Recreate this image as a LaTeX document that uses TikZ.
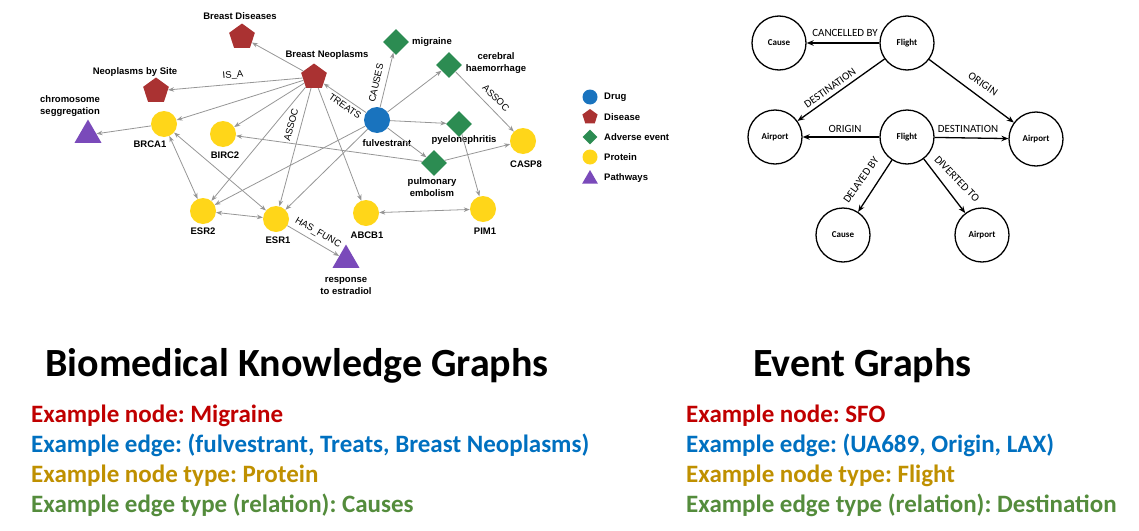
\documentclass[tikz,border=0pt]{standalone}
\usepackage{fontspec}
\setmainfont{Carlito}
\newfontfamily\hv{Liberation Sans}
\usetikzlibrary{shapes.geometric,arrows.meta}

\definecolor{disease}{RGB}{170,50,50}
\definecolor{drug}{RGB}{25,115,190}
\definecolor{adverse}{RGB}{44,140,82}
\definecolor{protein}{RGB}{255,214,25}
\definecolor{pathway}{RGB}{122,74,186}
\definecolor{edgegrey}{RGB}{150,150,150}
\definecolor{exred}{RGB}{192,0,0}
\definecolor{exblue}{RGB}{0,112,192}
\definecolor{exgold}{RGB}{191,144,0}
\definecolor{exgreen}{RGB}{84,140,60}

\frenchspacing
\begin{document}
\begin{tikzpicture}[x=1pt,y=-1pt,
  protnode/.style={circle,fill=protein,minimum size=26pt,inner sep=0},
  drugnode/.style={circle,fill=drug,minimum size=26pt,inner sep=0},
  disnode/.style={regular polygon,regular polygon sides=5,fill=disease,minimum size=27pt,inner sep=0},
  advnode/.style={diamond,aspect=1,fill=adverse,minimum size=26pt,inner sep=0},
  pathnode/.style={regular polygon,regular polygon sides=3,fill=pathway,minimum size=31pt,inner sep=0},
  blbl/.style={font=\hv\bfseries\fontsize{9.5}{11.5}\selectfont,inner sep=0,align=center},
  llbl/.style={font=\hv\bfseries\fontsize{9.5}{11.5}\selectfont,inner sep=0,anchor=west},
  elbl/.style={font=\hv\fontsize{9.5}{11}\selectfont,inner sep=0},
  kg/.style={draw=edgegrey,line width=0.8pt,-{Stealth[length=6pt,width=4.5pt]}},
  kgb/.style={draw=edgegrey,line width=0.8pt,{Stealth[length=6pt,width=4.5pt]}-{Stealth[length=6pt,width=4.5pt]}},
  evnode/.style={circle,draw,line width=1.3pt,minimum size=54pt,inner sep=0,font=\bfseries\fontsize{9}{10}\selectfont},
  evedge/.style={draw,line width=1.3pt,-{Stealth[length=7pt,width=5.5pt]}},
  evlbl/.style={font=\fontsize{11}{12}\selectfont,inner sep=0},
  title/.style={font=\bfseries\fontsize{40}{42}\selectfont,anchor=base west,inner sep=0},
  exline/.style={font=\bfseries\fontsize{25}{27}\selectfont,anchor=base west,inner sep=0}
]
\useasboundingbox (0,0) rectangle (1139,530);

% ---------- biomedical knowledge graph: nodes ----------
\node[disnode] (bd) at (242,37) {};
\node[disnode] (bn) at (314,77) {};
\node[disnode] (nbs) at (156,91) {};
\node[pathnode] (chr) at (88,135) {};
\node[protnode] (brca1) at (164,124) {};
\node[protnode] (birc2) at (223,134) {};
\node[protnode] (esr2) at (203,211) {};
\node[protnode] (esr1) at (276,219) {};
\node[protnode] (abcb1) at (366,213) {};
\node[protnode] (pim1) at (483,209) {};
\node[protnode] (casp8) at (523,141) {};
\node[drugnode] (fulv) at (377,120) {};
\node[advnode] (mig) at (396,42) {};
\node[advnode] (cer) at (449,65) {};
\node[advnode] (pye) at (459,124) {};
\node[advnode] (pul) at (434,163) {};
\node[pathnode] (resp) at (346,260) {};

% node captions
\node[blbl] (tbd) at (240,16) {Breast Diseases};
\node[blbl] (tbn) at (327,55) {Breast Neoplasms};
\node[blbl] (tnbs) at (135,72) {Neoplasms by Site};
\node[blbl,align=left,anchor=west] (tchr) at (40,106) {chromosome\\seggregation};
\node[blbl] (tbrca1) at (150,144) {BRCA1};
\node[blbl] (tbirc2) at (225,155) {BIRC2};
\node[blbl] (tesr2) at (203,231) {ESR2};
\node[blbl] (tesr1) at (278,240) {ESR1};
\node[blbl] (tabcb1) at (367,235) {ABCB1};
\node[blbl] (tpim1) at (485,231) {PIM1};
\node[blbl] (tcasp8) at (526,164) {CASP8};
\node[blbl] (tfulv) at (387,143) {fulvestrant};
\node[blbl] (tmig) at (432,42) {migraine};
\node[blbl] (tcer) at (496,63) {cerebral\\haemorrhage};
\node[blbl] (tpye) at (464,140) {pyelonephritis};
\node[blbl] (tpul) at (432,187) {pulmonary\\embolism};
\node[blbl] (tresp) at (346,286) {response\\to estradiol};

% ---------- biomedical knowledge graph: edges ----------
\draw[kg] (bn) -- (bd);
\draw[kg] (bn) -- (nbs);
\draw[kg] (bn) -- (brca1);
\draw[kg] (bn) -- (birc2);
\draw[kg] (bn) -- (esr2);
\draw[kg] (bn) -- (esr1);
\draw[kg] (bn) -- (abcb1);
\draw[kg] (fulv) -- (bn);
\draw[kg] (fulv) -- (mig);
\draw[kg] (fulv) -- (cer);
\draw[kg] (fulv) -- (pye);
\draw[kg] (fulv) -- (pul);
\draw[kg] (fulv) -- (esr2);
\draw[kg] (fulv) -- (esr1);
\draw[kg] (cer) -- (casp8);
\draw[kg] (pul) -- (birc2);
\draw[kg] (pul) -- (casp8);
\draw[kg] (pye) -- (pim1);
\draw[kg] (brca1) -- (chr);
\draw[kgb] (brca1) -- (esr2);
\draw[kgb] (brca1) -- (esr1);
\draw[kgb] (esr2) -- (esr1);
\draw[kgb] (abcb1) -- (pim1);
\draw[kg] (esr1) -- (resp);

% relation names
\node[elbl,rotate=5] (lisa) at (233,75) {IS\_A};
\node[elbl,rotate=-35] (ltreats) at (345,106) {TREATS};
\node[elbl,rotate=77] (lcauses) at (376,83) {CAUSES};
\node[elbl,rotate=75] (lassoc1) at (291,125) {ASSOC};
\node[elbl,rotate=-45] (lassoc2) at (496,98) {ASSOC};
\node[elbl,rotate=-30] (lhas) at (318,233) {HAS\_FUNC};

% ---------- legend ----------
\node[drugnode,minimum size=15pt] (kdrug) at (590,97) {};
\node[disnode,minimum size=16pt] (kdis) at (590,117) {};
\node[advnode,minimum size=15pt] (kadv) at (590,137) {};
\node[protnode,minimum size=15pt] (kprot) at (590,157) {};
\node[pathnode,minimum size=18pt] (kpath) at (590,179) {};
\node[llbl] (tkdrug) at (604,97) {Drug};
\node[llbl] (tkdis) at (604,117) {Disease};
\node[llbl] (tkadv) at (604,137) {Adverse event};
\node[llbl] (tkprot) at (604,157) {Protein};
\node[llbl] (tkpath) at (604,178) {Pathways};

% ---------- event graph ----------
\node[evnode] (c1) at (779,43) {Cause};
\node[evnode] (f1) at (907,43) {Flight};
\node[evnode] (al) at (775,137) {Airport};
\node[evnode] (f2) at (907,137) {Flight};
\node[evnode] (ar) at (1036,139) {Airport};
\node[evnode] (c2) at (843,235) {Cause};
\node[evnode] (ab) at (982,235) {Airport};

\draw[evedge] (f1) -- (c1);
\draw[evedge] (f1) -- (al);
\draw[evedge] (f1) -- (ar);
\draw[evedge] (f2) -- (al);
\draw[evedge] (f2) -- (ar);
\draw[evedge] (f2) -- (c2);
\draw[evedge] (f2) -- (ab);

\node[evlbl] (lcanc) at (845,33) {CANCELLED BY};
\node[evlbl,rotate=35] (ldest1) at (830,88) {DESTINATION};
\node[evlbl,rotate=-34] (lorig1) at (983,84) {ORIGIN};
\node[evlbl] (lorig2) at (845,129) {ORIGIN};
\node[evlbl] (ldest2) at (968,129) {DESTINATION};
\node[evlbl,rotate=55] (ldel) at (861,180) {DELAYED BY};
\node[evlbl,rotate=-46] (ldiv) at (957,179) {DIVERTED TO};

% ---------- captions below ----------
\node[title] (ttl1) at (45,376) {Biomedical Knowledge Graphs};
\node[exline,text=exred] (b1) at (31,422) {Example node: Migraine};
\node[exline,text=exblue] (b2) at (31,452) {Example edge: (fulvestrant, Treats, Breast Neoplasms)};
\node[exline,text=exgold] (b3) at (31,482) {Example node type: Protein};
\node[exline,text=exgreen] (b4) at (31,512) {Example edge type (relation): Causes};

\node[title] (ttl2) at (753,376) {Event Graphs};
\node[exline,text=exred] (e1) at (686,422) {Example node: SFO};
\node[exline,text=exblue] (e2) at (686,452) {Example edge: (UA689, Origin, LAX)};
\node[exline,text=exgold] (e3) at (686,482) {Example node type: Flight};
\node[exline,text=exgreen] (e4) at (686,512) {Example edge type (relation): Destination};
\end{tikzpicture}
\end{document}
